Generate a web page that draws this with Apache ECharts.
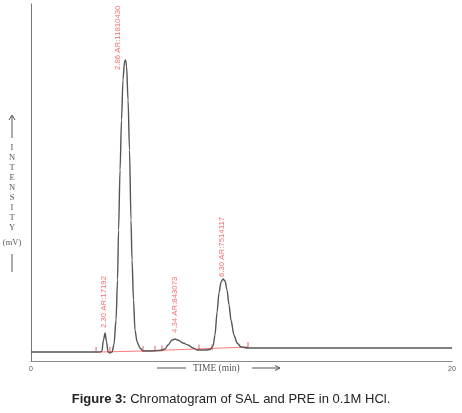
<!DOCTYPE html>
<html>
<head>
<meta charset="utf-8">
<script src="https://cdn.jsdelivr.net/npm/echarts@6/dist/echarts.min.js"></script>
<style>
  html, body { margin: 0; padding: 0; background: #fff; }
  #chart { width: 462px; height: 413px; }
</style>
</head>
<body>
<div id="chart"></div>
<script>
// trace (time on the drawn axis, signal in mV)
const traceTime = [0, 3.09, 3.28, 3.37, 3.44, 3.52, 3.59, 3.66, 3.75, 3.85, 3.94, 4.04, 4.11, 4.16, 4.23, 4.30, 4.37, 4.44, 4.49, 4.54, 4.61, 4.68, 4.75, 4.80, 4.87, 4.94, 5.04, 5.18, 5.32, 5.65, 6.13, 6.37, 6.51, 6.70, 6.84, 6.98, 7.22, 7.46, 7.70, 7.89, 8.27, 8.50, 8.65, 8.74, 8.84, 8.93, 9.03, 9.12, 9.22, 9.31, 9.41, 9.50, 9.64, 9.79, 9.98, 10.31, 20]
const traceSignal = [2.52, 2.52, 2.52, 2.80, 5.88, 7.84, 5.32, 2.52, 2.24, 2.52, 4.48, 11.48, 22.69, 36.69, 53.50, 67.51, 78.71, 83.75, 84.31, 82.63, 73.11, 59.10, 39.50, 28.29, 17.09, 8.68, 5.32, 3.64, 2.80, 2.80, 2.94, 3.36, 4.48, 5.88, 6.16, 5.88, 5.04, 4.48, 3.64, 3.08, 3.08, 3.22, 4.20, 7.28, 13.73, 19.05, 22.13, 22.97, 22.41, 19.89, 15.69, 11.48, 7.28, 5.04, 3.92, 3.64, 3.64]

// integration baseline
const baseTime = [3.28, 5.32, 10.31]
const baseSignal = [2.52, 2.80, 3.92]

// integration event marks
const markTime = [3.09, 3.75, 5.32, 5.89, 6.22, 7.98, 8.60, 10.31]
const markSignal = [2.52, 2.52, 2.80, 2.90, 2.95, 3.20, 3.30, 3.90]

// peaks
const peakTime = [3.52, 4.49, 6.84, 9.12]
const peakHeight = [7.84, 84.31, 6.16, 22.97]
const peakRT = ['2.30', '2.86', '4.34', '6.30']
const peakArea = [17192, 11810430, 843073, 7514117]

const xTicks = [0, 20]
const yLetters = ['I', 'N', 'T', 'E', 'N', 'S', 'I', 'T', 'Y']

// label shift in px from the apex (x, y)
const labelShift = [[-1, -5], [-8, 10], [0, -6], [-1, -2]]

const chart = echarts.init(document.getElementById('chart'))

const serif = 'Liberation Serif'
const gray = '#555'

let graphics = []
// y axis name: arrow, letters, (mV), bar
graphics.push({ type: 'line', shape: { x1: 12, y1: 138, x2: 12, y2: 116 }, style: { stroke: gray, lineWidth: 1 } })
graphics.push({ type: 'polyline', shape: { points: [[9, 120], [12, 115], [15, 120]] }, style: { stroke: gray, lineWidth: 1, fill: null } })
yLetters.forEach(function (ch, i) {
  graphics.push({
    type: 'text', x: 12, y: 148 + i * 10,
    style: { text: ch, font: '8.5px ' + serif, fill: gray, textAlign: 'center', textVerticalAlign: 'middle' }
  })
})
graphics.push({
  type: 'text', x: 12, y: 243,
  style: { text: '(mV)', font: '8.5px ' + serif, fill: gray, textAlign: 'center', textVerticalAlign: 'middle' }
})
graphics.push({ type: 'line', shape: { x1: 12, y1: 254, x2: 12, y2: 272 }, style: { stroke: gray, lineWidth: 1 } })

// x axis name
graphics.push({ type: 'line', shape: { x1: 157, y1: 368, x2: 186, y2: 368 }, style: { stroke: gray, lineWidth: 1 } })
graphics.push({
  type: 'text', x: 193, y: 368,
  style: { text: 'TIME (min)', font: '9.5px ' + serif, fill: gray, textAlign: 'left', textVerticalAlign: 'middle' }
})
graphics.push({ type: 'line', shape: { x1: 252, y1: 368, x2: 280, y2: 368 }, style: { stroke: gray, lineWidth: 1 } })
graphics.push({ type: 'polyline', shape: { points: [[275, 365.5], [280, 368], [275, 370.5]] }, style: { stroke: gray, lineWidth: 1, fill: null } })

const option = {
  animation: false,
  backgroundColor: '#fff',
  title: {
    text: '{b|Figure 3:} Chromatogram of SAL and PRE in 0.1M HCl.',
    left: 'center',
    top: 388,
    textStyle: {
      fontFamily: 'Liberation Sans',
      fontSize: 13,
      fontWeight: 'normal',
      color: '#222',
      rich: {
        b: { fontFamily: 'Liberation Sans', fontSize: 13, fontWeight: 'bold', color: '#222' }
      }
    }
  },
  grid: { left: 31, right: 10, top: 4, bottom: 52 },
  xAxis: {
    type: 'value',
    min: xTicks[0],
    max: xTicks[1],
    interval: 20,
    axisLine: { lineStyle: { color: '#888', width: 1 } },
    axisTick: { show: false },
    splitLine: { show: false },
    axisLabel: { fontSize: 7, color: gray, margin: 5, fontFamily: 'Liberation Sans' }
  },
  yAxis: {
    type: 'value',
    min: 0,
    max: 100,
    axisLine: { show: true, lineStyle: { color: '#777', width: 1 } },
    axisTick: { show: false },
    axisLabel: { show: false },
    splitLine: { show: false }
  },
  graphic: graphics,
  series: [
    {
      name: 'trace',
      type: 'line',
      data: traceTime.map((t, i) => [t, traceSignal[i]]),
      symbol: 'none',
      smooth: 0.3,
      smoothMonotone: 'x',
      lineStyle: { color: '#555', width: 1.4 },
      z: 3
    },
    {
      name: 'baseline',
      type: 'line',
      data: baseTime.map((t, i) => [t, baseSignal[i]]),
      symbol: 'none',
      lineStyle: { color: '#ff7a7a', width: 1 },
      z: 2
    },
    {
      name: 'marks',
      type: 'scatter',
      data: markTime.map((t, i) => [t, markSignal[i]]),
      symbol: 'rect',
      symbolSize: [1, 6],
      symbolOffset: [0, -2],
      itemStyle: { color: '#c44' },
      z: 4
    },
    {
      name: 'peaks',
      type: 'scatter',
      symbolSize: 1,
      itemStyle: { color: 'rgba(0,0,0,0)' },
      data: peakTime.map((t, i) => ({
        value: [t, peakHeight[i]],
        label: { position: [labelShift[i][0] + 0.5, labelShift[i][1] + 0.5] }
      })),
      label: {
        show: true,
        rotate: 90,
        align: 'left',
        verticalAlign: 'middle',
        fontSize: 7.8,
        fontFamily: 'Liberation Sans',
        color: '#f04848',
        formatter: p => peakRT[p.dataIndex] + ' AR:' + peakArea[p.dataIndex]
      },
      z: 5
    }
  ]
}

chart.setOption(option)
</script>
</body>
</html>
